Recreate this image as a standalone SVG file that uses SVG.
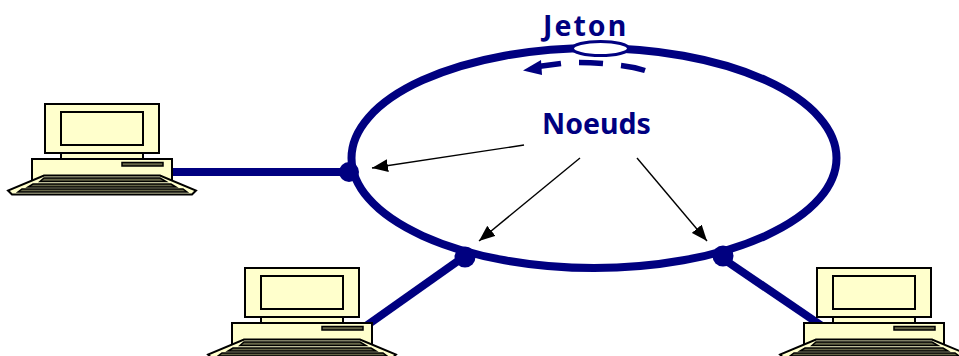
<svg xmlns="http://www.w3.org/2000/svg" xmlns:xlink="http://www.w3.org/1999/xlink" width="959" height="356" viewBox="0 0 959 356">
<style>
.ln{fill:none;stroke:#000080;stroke-linecap:butt}
.pc{fill:#ffffcc;stroke:#000;stroke-width:2;stroke-linejoin:miter}
.key{fill:#666648;stroke:#000;stroke-width:1.5}
.lab{font-family:"Noto Sans",sans-serif;font-weight:bold;fill:#000080;font-size:28.500px}
.ar{fill:none;stroke:#000;stroke-width:1.4}
</style>
<defs>
<marker id="ah" markerUnits="userSpaceOnUse" markerWidth="17" markerHeight="13" refX="16" refY="6.500" orient="auto"><path d="M0 0L16 6.500L0 13Z" fill="#000"/></marker>
<g id="computer">
<rect class="pc" x="45" y="104" width="114" height="49"/>
<rect class="pc" x="61" y="112" width="82" height="33"/>
<rect class="pc" x="61" y="153" width="82" height="6"/>
<rect class="pc" x="32" y="159" width="140" height="22"/>
<rect class="key" x="122" y="162.500" width="41" height="3.500"/>
<path class="pc" d="M44 175.500H160L196 190.500L192 194.500H12L8 190.500Z"/>
<path class="key" d="M44 178H160L166 181.500H40Z"/>
<path class="key" d="M33 184H171L176 187H28Z"/>
<path class="key" d="M22 189H183L187 192H18Z"/>
</g>
</defs>
<g id="connectors">
<path class="ln" stroke-width="8" d="M172 172H350"/>
<path class="ln" stroke-width="8" d="M366 326L465 256"/>
<path class="ln" stroke-width="8" d="M722 258L822 326"/>
<path class="ln" stroke-width="5.500" d="M645 70.500Q634 67 621 65.500M603 63.500Q590 62.500 579 62.500M561 63.500L538 66.500"/>
<path d="M523 70.500L541 60L542 75Z" fill="#000080"/>
<path class="ar" marker-end="url(#ah)" d="M524 145L372 168"/>
<path class="ar" marker-end="url(#ah)" d="M580 158L479 241"/>
<path class="ar" marker-end="url(#ah)" d="M637 158L707 241"/>
</g>
<g id="ring">
<ellipse class="ln" stroke-width="8" cx="594" cy="158" rx="242.500" ry="110"/>
<circle cx="349" cy="172" r="10" fill="#000080"/>
<circle cx="465" cy="257" r="10.500" fill="#000080"/>
<circle cx="723" cy="256" r="10.500" fill="#000080"/>
<ellipse cx="600.500" cy="48.500" rx="28" ry="7" fill="#fff" stroke="#000080" stroke-width="3"/>
</g>
<g id="node-left"><use xlink:href="#computer" href="#computer"/></g>
<g id="node-bottom-left"><use xlink:href="#computer" href="#computer" x="200" y="164"/></g>
<g id="node-bottom-right"><use xlink:href="#computer" href="#computer" x="772" y="164"/></g>
<g id="label-jeton"><text class="lab" x="543" y="36" letter-spacing="2">Jeton</text></g>
<g id="label-noeuds"><text class="lab" x="542" y="134">Noeuds</text></g>
</svg>
